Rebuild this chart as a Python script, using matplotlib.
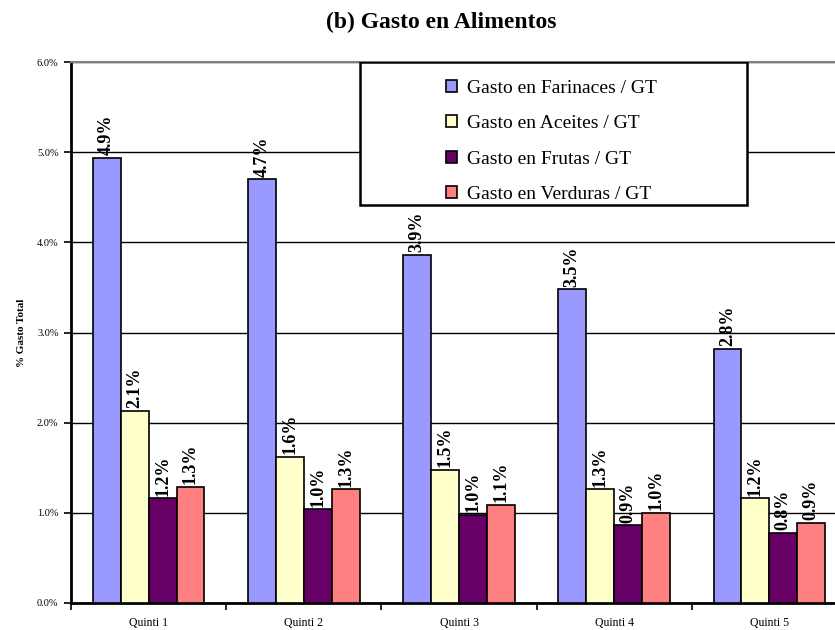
import matplotlib.pyplot as plt
import numpy as np
from matplotlib.patches import Rectangle
from matplotlib.ticker import FuncFormatter

plt.rcParams['font.family'] = ['Liberation Serif', 'DejaVu Serif']

quintiles = ['Quinti 1', 'Quinti 2', 'Quinti 3', 'Quinti 4', 'Quinti 5']
series_names = ['Gasto en Farinaces / GT', 'Gasto en Aceites / GT',
                'Gasto en Frutas / GT', 'Gasto en Verduras / GT']
farinaces = [4.94, 4.70, 3.86, 3.48, 2.82]
aceites = [2.13, 1.62, 1.48, 1.26, 1.16]
frutas = [1.16, 1.04, 0.98, 0.86, 0.78]
verduras = [1.29, 1.26, 1.09, 1.00, 0.89]
colors = ['#9999FF', '#FFFFCC', '#660066', '#FF8080']

fig = plt.figure(figsize=(8.35, 6.3), dpi=100)
# axes run past the right edge of the picture, as in the original
ax = fig.add_axes([71/835, 1 - 603/630, 776/835, 541/630])

x = np.arange(len(quintiles))
w = 0.18
all_series = [farinaces, aceites, frutas, verduras]
for k, vals in enumerate(all_series):
    pos = x + (k - 1.5) * w
    ax.bar(pos, vals, w, color=colors[k], edgecolor='black', linewidth=1.2,
           label=series_names[k], zorder=3)
    for xp, v in zip(pos, vals):
        ax.text(xp, v + 0.03, '%.1f%%' % v, rotation=90, ha='center', va='bottom',
                fontsize=13, fontweight='bold', zorder=4)

ax.set_xlim(-0.5, 4.5)
ax.set_ylim(0, 6)
ax.set_yticks(np.arange(0, 6.1, 1))
ax.yaxis.set_major_formatter(FuncFormatter(lambda v, p: '%.1f%%' % v))
ax.yaxis.grid(True, color='black', linewidth=1)
ax.set_axisbelow(True)
ax.set_xticks(x)
ax.set_xticklabels(quintiles, fontsize=8.5)
ax.set_xticks(np.arange(-0.5, 5, 1), minor=True)
ax.tick_params(axis='x', which='major', length=0, pad=10)
ax.tick_params(axis='x', which='minor', length=5, width=1.2, direction='out')
ax.tick_params(axis='y', length=5, width=1.2, direction='out', labelsize=7.5, pad=4)

ax.spines['left'].set_linewidth(2)
ax.spines['bottom'].set_linewidth(2)
ax.spines['top'].set_color('#808080')
ax.spines['top'].set_linewidth(1.5)
ax.spines['right'].set_visible(False)

ax.set_ylabel('% Gasto Total', fontsize=8, fontweight='bold', labelpad=8)
fig.text(441/835, 1 - 22/630, '(b) Gasto en Alimentos', ha='center', va='center',
         fontsize=17, fontweight='bold')

# legend box
box = Rectangle(((360-71)/776, (603-205)/541), 387/776, 143/541, transform=ax.transAxes,
                facecolor='white', edgecolor='black', linewidth=1.8, zorder=5)
ax.add_patch(box)
leg = ax.legend(loc='upper left', bbox_to_anchor=((428-71)/776, 1.0), frameon=False,
                fontsize=14, handlelength=0.6, handleheight=0.6, handletextpad=0.5,
                labelspacing=0.95)
leg.set_zorder(6)

fig.savefig('out.png', dpi=100)
